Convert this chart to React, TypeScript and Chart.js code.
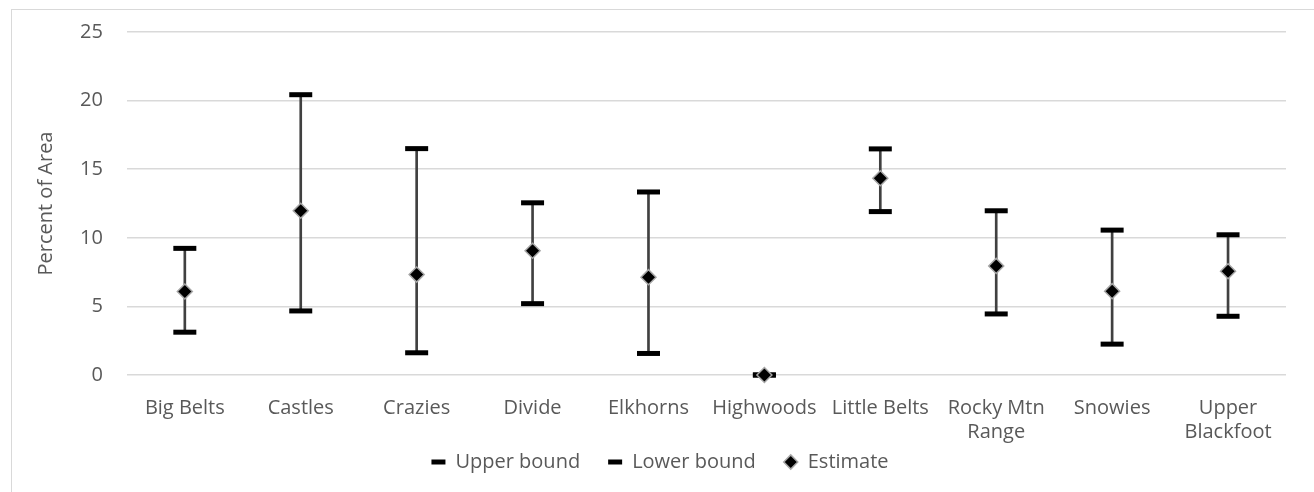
import React, { useEffect, useRef } from "react";
import { Chart, registerables } from "chart.js";

Chart.register(...registerables);

const categories: (string | string[])[] = [
  "Big Belts",
  "Castles",
  "Crazies",
  "Divide",
  "Elkhorns",
  "Highwoods",
  "Little Belts",
  ["Rocky Mtn", "Range"],
  "Snowies",
  ["Upper", "Blackfoot"],
];
const upperBound = [9.23, 20.43, 16.5, 12.55, 13.34, 0.0, 16.48, 11.97, 10.56, 10.22];
const lowerBound = [3.12, 4.67, 1.62, 5.2, 1.57, 0.0, 11.91, 4.45, 2.25, 4.28];
const estimate = [6.09, 11.97, 7.32, 9.06, 7.13, 0.0, 14.34, 7.95, 6.11, 7.56];
const yTicks = [0, 5, 10, 15, 20, 25];

const FONT = "'Open Sans', sans-serif";
const SIZE = 20;
const TEXT = "#595959";

export default function App() {
  const ref = useRef<HTMLCanvasElement | null>(null);
  useEffect(() => {
    if (!ref.current) return;
    const ranges = upperBound.map((u, i) => [lowerBound[i], u]);
    const chart = new Chart(ref.current, {
      data: {
        labels: categories,
        datasets: [
          {
            type: "bar",
            label: "range",
            data: ranges as any,
            backgroundColor: "#404040",
            borderWidth: 0,
            barThickness: 2,
            order: 10,
            grouped: false,
          } as any,
          {
            type: "line",
            label: "Upper bound",
            data: upperBound,
            showLine: false,
            clip: false,
            pointStyle: "line",
            pointRadius: 11.5,
            pointBorderWidth: 5,
            borderWidth: 5,
            borderColor: "#000000",
            backgroundColor: "#000000",
            order: 2,
          },
          {
            type: "line",
            label: "Lower bound",
            data: lowerBound,
            showLine: false,
            clip: false,
            pointStyle: "line",
            pointRadius: 11.5,
            pointBorderWidth: 5,
            borderWidth: 5,
            borderColor: "#000000",
            backgroundColor: "#000000",
            order: 1,
          },
          {
            type: "line",
            label: "Estimate",
            data: estimate,
            showLine: false,
            clip: false,
            pointStyle: "rectRot",
            pointRadius: 7.5,
            pointBorderWidth: 1.5,
            borderWidth: 1.5,
            borderColor: "#a6a6a6",
            backgroundColor: "#000000",
            order: 0,
          },
        ] as any,
      },
      options: {
        responsive: false,
        animation: false,
        layout: { padding: { top: 32, right: 28, bottom: 10, left: 34 } },
        plugins: {
          tooltip: { enabled: false },
          legend: {
            position: "bottom",
            labels: {
              usePointStyle: true,
              boxHeight: 10,
              pointStyleWidth: 14,
              color: TEXT,
              font: { family: FONT, size: SIZE },
              padding: 8,
              generateLabels: (c: any) => {
                const items = Chart.defaults.plugins.legend.labels.generateLabels(c);
                const kept = items
                  .filter((it: any) => it.text !== "range")
                  .sort((a: any, b: any) => a.datasetIndex - b.datasetIndex);
                kept.forEach((it: any, i: number) => {
                  if (i < kept.length - 1) it.text = it.text + "\u2002\u2002";
                });
                return kept;
              },
            },
          },
        },
        scales: {
          x: {
            grid: { display: false, drawTicks: true, tickLength: 21 },
            border: { display: false },
            ticks: {
              color: TEXT,
              font: { family: FONT, size: SIZE },
              maxRotation: 0,
              autoSkip: false,
              padding: 0,
            },
          },
          y: {
            min: 0,
            max: 25,
            afterBuildTicks: (axis: any) => {
              axis.ticks = yTicks.map((v) => ({ value: v }));
            },
            grid: {
              color: "#d9d9d9",
              lineWidth: 1.5,
              drawTicks: true,
              tickLength: 24,
              tickColor: "rgba(0,0,0,0)",
            },
            border: { display: false },
            ticks: {
              color: TEXT,
              font: { family: FONT, size: SIZE },
              padding: 0,
            },
            title: {
              display: true,
              text: "Percent of Area",
              color: TEXT,
              font: { family: FONT, size: SIZE },
              padding: { top: 0, bottom: 22 },
            },
          },
        },
      },
    });
    return () => chart.destroy();
  }, []);

  return (
    <div style={{ position: "fixed", left: 0, top: 0, width: 1314, height: 492, overflow: "hidden", background: "#fff" }}>
      <div
        style={{
          position: "absolute",
          left: 11,
          top: 9,
          width: 1310,
          height: 520,
          border: "1px solid #d9d9d9",
          boxSizing: "border-box",
        }}
      />
      <canvas
        ref={ref}
        width={1314}
        height={492}
        style={{ position: "absolute", left: 0, top: 0, width: 1314, height: 492 }}
      />
    </div>
  );
}
